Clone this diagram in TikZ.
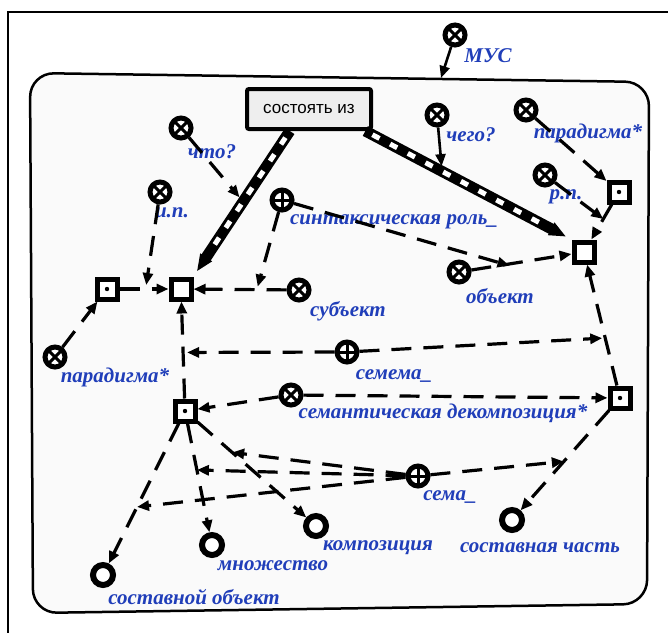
\documentclass[tikz,border=0pt]{standalone}
\usepackage{fontspec}
\setmainfont{Liberation Serif}
\setsansfont{Liberation Sans}
\usetikzlibrary{arrows.meta,calc}
\definecolor{lblblue}{RGB}{32,62,185}
\definecolor{panel}{RGB}{250,250,250}
\definecolor{boxfill}{RGB}{238,238,238}

\begin{document}
\begin{tikzpicture}[x=1pt,y=-1pt,
  lbl/.style={text=lblblue, font=\fontsize{21}{23}\selectfont\bfseries\itshape, inner sep=0pt},
  sq/.style={rectangle, draw, line width=5pt, minimum size=20pt, inner sep=0pt, fill=white},
  sqdot/.style={sq, path picture={\fill[black] (path picture bounding box.center) circle (2.2pt);}},
  crossnode/.style={circle, draw, line width=5pt, minimum size=20pt, inner sep=0pt, fill=white,
    path picture={\draw[black, line width=3pt]
      (path picture bounding box.north west) -- (path picture bounding box.south east)
      (path picture bounding box.north east) -- (path picture bounding box.south west);}},
  plusnode/.style={circle, draw, line width=5pt, minimum size=20pt, inner sep=0pt, fill=white,
    path picture={\draw[black, line width=3pt]
      (path picture bounding box.north) -- (path picture bounding box.south)
      (path picture bounding box.west) -- (path picture bounding box.east);}},
  ringnode/.style={circle, draw, line width=6pt, minimum size=20pt, inner sep=0pt, fill=white},
  relbox/.style={rectangle, draw, line width=4pt, fill=boxfill, minimum width=124pt,
    minimum height=40pt, rounded corners=2pt, font=\sffamily\fontsize{17}{19}\selectfont},
  conn/.style={draw, line width=3.2pt, dash pattern=on 20pt off 12pt,
    -{Triangle[length=12pt,width=10pt]}},
  solidconn/.style={draw, line width=2.6pt, -{Triangle[length=12pt,width=10pt]}},
  stripe/.style={draw, line width=11pt, -{Triangle[length=17pt,width=13pt]}, shorten >=6pt},
  stripegap/.style={draw, white, line width=5pt, dash pattern=on 8pt off 12pt,
    shorten <=8pt, shorten >=27pt},
]
\useasboundingbox (0,0) rectangle (668,632);

% outer frame and rounded panel
\draw[line width=2pt] (8,640) -- (8,12) -- (676,12);
\draw[line width=2.5pt, fill=panel, rounded corners=24pt]
  (30,73) -- (649,82) -- (647,604) -- (33,613) -- cycle;

% relation box
\node[relbox] (box) at (309,109) {состоять из};

% element nodes
\node[crossnode] (mus)    at (455,35)  {};
\node[crossnode] (chto)   at (181,128) {};
\node[crossnode] (ip)     at (160,192) {};
\node[crossnode] (chego)  at (437,115) {};
\node[crossnode] (par2)   at (526,110) {};
\node[crossnode] (rp)     at (545,175) {};
\node[plusnode]  (synt)   at (282,200) {};
\node[crossnode] (subj)   at (299,290) {};
\node[crossnode] (obj)    at (459,272) {};
\node[crossnode] (par1)   at (55,357)  {};
\node[plusnode]  (semema) at (347,352) {};
\node[crossnode] (semdec) at (291,395) {};
\node[plusnode]  (sema)   at (418,476) {};

\node[sq]    (s1) at (181,289) {};
\node[sq]    (s2) at (584,252) {};
\node[sqdot] (s0) at (107,289) {};
\node[sqdot] (s3) at (185,411) {};
\node[sqdot] (s4) at (620,398) {};
\node[sqdot] (s5) at (619,192) {};

\node[ringnode] (o1) at (103,575) {};
\node[ringnode] (o2) at (212,545) {};
\node[ringnode] (o3) at (316,526) {};
\node[ringnode] (o4) at (512,520) {};

% labels
\node[lbl] (lmus)    at (488,56)  {МУС};
\node[lbl] (lchto)   at (212,152) {что?};
\node[lbl] (lip)     at (172,213) {и.п.};
\node[lbl] (lchego)  at (471,135) {чего?};
\node[lbl] (lpar2)   at (588,133) {парадигма*};
\node[lbl] (lrp)     at (566,197) {р.п.};
\node[lbl] (lsynt)   at (394,222) {синтаксическая роль\_};
\node[lbl] (lsubj)   at (348,311) {субъект};
\node[lbl] (lobj)    at (500,296) {объект};
\node[lbl] (lpar1)   at (115,377) {парадигма*};
\node[lbl] (lsemema) at (394,376) {семема\_};
\node[lbl] (lsemdec) at (443,413) {семантическая декомпозиция*};
\node[lbl] (lsema)   at (450,497) {сема\_};
\node[lbl] (lo4)     at (540,548) {составная часть};
\node[lbl] (lo3)     at (378,548) {композиция};
\node[lbl] (lo2)     at (273,566) {множество};
\node[lbl] (lo1)     at (194,597) {составной объект};

% striped arcs of the relation
\coordinate (lsA) at ($(box.south west)!0.35!(box.south east)$);
\coordinate (rsA) at ($(box.south west)!0.94!(box.south east)$);
\draw[stripe] (lsA) -- (s1.north east);
\draw[stripegap] (lsA) -- (s1.north east);
\draw[stripe] (rsA) -- (s2.north west);
\draw[stripegap] (rsA) -- (s2.north west);

% points on arcs that other arcs point to
\coordinate (musin) at (441,78);
\coordinate (onL)  at ($(lsA)!0.47!(s1.north east)$);
\coordinate (onR)  at ($(rsA)!0.37!(s2.north west)$);
\coordinate (on01) at ($(s0)!0.53!(s1)$);
\coordinate (onsb) at ($(subj)!0.35!(s1)$);
\coordinate (onob) at ($(obj)!0.42!(s2)$);
\coordinate (on31) at ($(s3)!0.48!(s1)$);
\coordinate (on42) at ($(s4)!0.41!(s2)$);
\coordinate (on52) at ($(s5)!0.45!(s2)$);
\coordinate (on4o) at ($(s4)!0.52!(o4)$);
\coordinate (on3a) at ($(s3)!0.36!(o3)$);
\coordinate (on3b) at ($(s3)!0.44!(o2)$);
\coordinate (on3c) at ($(s3)!0.585!(o1)$);

% connectors
\draw[solidconn] (mus) -- (musin);
\draw[solidconn] (chego) -- ($(onR)+(0,-5)$);
\draw[conn] (chto) -- ($(onL)+(-5,-2)$);
\draw[conn] (ip) -- ($(on01)+(0,-4)$);
\draw[conn] (s0) -- (s1);
\draw[conn] (par1) -- (s0);
\draw[conn] (subj) -- (s1);
\draw[conn] (synt) -- ($(onsb)+(0,-3)$);
\draw[conn] (synt) -- ($(onob)+(-2,2)$);
\draw[conn] (obj) -- (s2);
\draw[conn] (s3) -- (s1);
\draw[conn] (semema) -- ($(on31)+(4,0)$);
\draw[conn] (semema) -- ($(on42)+(-3,0)$);
\draw[conn] (s4) -- (s2);
\draw[conn] (par2) -- (s5);
\draw[conn] (s5) -- (s2);
\draw[conn] (rp) -- (on52);
\draw[conn] (semdec) -- (s3);
\draw[conn] (semdec) -- (s4);
\draw[conn] (s3) -- (o1);
\draw[conn] (s3) -- (o2);
\draw[conn] (s3) -- (o3);
\draw[conn] (s4) -- (o4);
\draw[conn] (sema) -- (on4o);
\draw[conn] (sema) -- (on3a);
\draw[conn] (sema) -- (on3b);
\draw[conn] (sema) -- (on3c);
\end{tikzpicture}
\end{document}
